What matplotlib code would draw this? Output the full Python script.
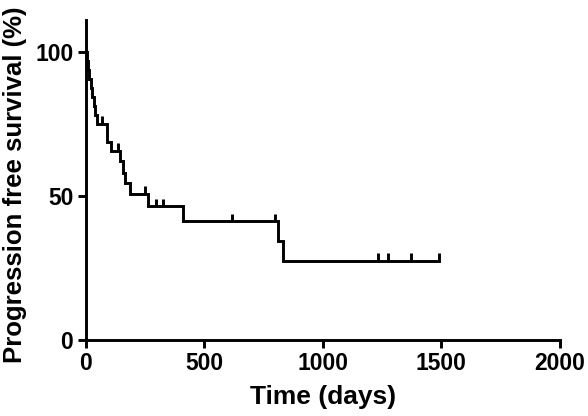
import matplotlib
matplotlib.use("Agg")
import matplotlib.pyplot as plt
import numpy as np

# Kaplan-Meier step curve (days, % progression free)
step_times = [0, 3, 8, 14, 20, 26, 33, 40, 46, 88, 108, 146, 157, 165, 186, 263, 410, 809, 833, 1491]
step_surv = [100, 96.9, 93.8, 90.6, 87.5, 84.4, 81.3, 78.1, 75.0, 68.8, 65.6, 62.0, 58.0, 54.4, 50.7,
             46.3, 41.2, 34.3, 27.4, 27.4]
# censored observations (days)
censor_times = [68, 136, 249, 298, 326, 617, 797, 1233, 1276, 1371, 1491]

x_ticks = [0, 500, 1000, 1500, 2000]
y_ticks = [0, 50, 100]

plt.rcParams['font.family'] = ['Liberation Sans', 'DejaVu Sans']

fig = plt.figure(figsize=(5.88, 4.16), dpi=100)
ax = fig.add_axes([0.146, 0.183, 0.806, 0.769])

lw = 2.1
ax.step(step_times, step_surv, where='post', color='black', lw=lw, solid_joinstyle='miter')

# censor ticks
for t in censor_times:
    idx = np.searchsorted(step_times, t, side='right') - 1
    s = step_surv[idx]
    ax.plot([t, t], [s, s + 2.6], color='black', lw=lw, solid_capstyle='butt')

ax.set_xlim(0, 2000)
ax.set_ylim(0, 111)
ax.set_xticks(x_ticks)
ax.set_yticks(y_ticks)
ax.spines['top'].set_visible(False)
ax.spines['right'].set_visible(False)
for s in ['left', 'bottom']:
    ax.spines[s].set_linewidth(lw)
ax.tick_params(direction='out', length=6, width=lw, labelsize=16.5, pad=3)
for lab in ax.get_xticklabels() + ax.get_yticklabels():
    lab.set_fontweight('bold')

ax.set_xlabel('Time (days)', fontsize=19, fontweight='bold', labelpad=7)
ax.set_ylabel('Progression free survival (%)', fontsize=18.5, fontweight='bold')
ax.yaxis.set_label_coords(-0.125, 0.484)

fig.savefig('out.png', dpi=100)
